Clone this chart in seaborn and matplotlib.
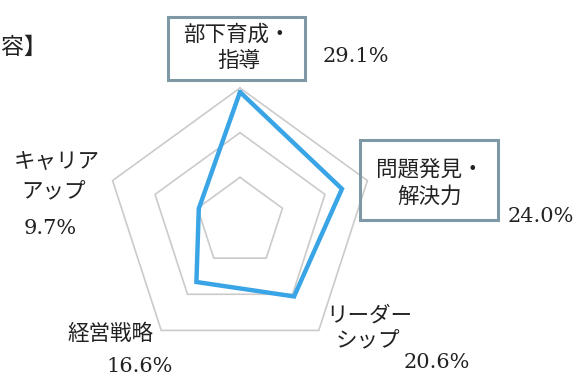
import numpy as np
import pandas as pd
import matplotlib
matplotlib.use("Agg")
import matplotlib.pyplot as plt
from matplotlib.patches import Rectangle
import seaborn as sns

# Training content survey: share of responses per category (%)
categories = ["部下育成・指導", "問題発見・解決力", "リーダーシップ", "経営戦略", "キャリアアップ"]
values = [29.1, 24.0, 20.6, 16.6, 9.7]
grid_levels = [10, 20, 30]
value_labels = ["29.1%", "24.0%", "20.6%", "16.6%", "9.7%"]

sns.set_theme(style="white")
plt.rcParams["font.family"] = ["Noto Sans CJK JP", "DejaVu Sans"]

W, H = 578, 379
fig = plt.figure(figsize=(W / 100, H / 100), dpi=100)
fig.patch.set_facecolor("white")

# chart centre and outer radius in pixels
cx, cy, R = 240, 222, 134
vmax = grid_levels[-1]
scale = R / vmax
ax = fig.add_axes([0, 0, 1, 1])
ax.set_xlim(-cx / scale, (W - cx) / scale)
ax.set_ylim(-(H - cy) / scale, cy / scale)
ax.set_axis_off()

n = len(categories)
angles = np.deg2rad(90 - 72 * np.arange(n))

# pentagon grid
for lv in grid_levels:
    gx = np.append(lv * np.cos(angles), lv * np.cos(angles[0]))
    gy = np.append(lv * np.sin(angles), lv * np.sin(angles[0]))
    ax.plot(gx, gy, color="#cbcbcb", lw=1.2, solid_joinstyle="miter", zorder=1)

# data polygon
vals = np.array(values)
df = pd.DataFrame({
    "x": np.append(vals * np.cos(angles), vals[0] * np.cos(angles[0])),
    "y": np.append(vals * np.sin(angles), vals[0] * np.sin(angles[0])),
})
sns.lineplot(data=df, x="x", y="y", sort=False, estimator=None, ax=ax,
             color="#3aa5e6", lw=3.2, zorder=3)
ax.lines[-1].set_solid_joinstyle("miter")
ax.set_xlabel("")
ax.set_ylabel("")


def px(x, y):
    return x / W, 1 - y / H


def txt(x, y, s, serif=False, size=15.5, **kw):
    fam = ["DejaVu Serif"] if serif else ["Noto Sans CJK JP", "DejaVu Sans"]
    fig.text(*px(x, y), s, ha=kw.pop("ha", "center"), va="center",
             family=fam, fontsize=size, color="#222222", **kw)


def box(x0, y0, x1, y1):
    fig.patches.append(Rectangle(px(x0, y1), (x1 - x0) / W, (y1 - y0) / H,
                                 transform=fig.transFigure, fill=False,
                                 edgecolor="#7f98a6", lw=2.2, zorder=5))


# heading fragment
txt(1, 47, "容】", size=16.5, ha="left")

# category labels
box(168, 17, 305, 80)
txt(237, 35, "部下育成・")
txt(239, 61, "指導")
txt(356, 57, value_labels[0], serif=True, size=15)

box(360, 140, 498, 220)
txt(430, 169, "問題発見・")
txt(430, 197, "解決力")
txt(541, 217, value_labels[1], serif=True, size=15)

txt(369, 316, "リーダー")
txt(368, 341, "シップ")
txt(437, 362, value_labels[2], serif=True, size=15)

txt(110, 334, "経営戦略")
txt(140, 367, value_labels[3], serif=True, size=15)

txt(57, 161, "キャリア")
txt(54, 192, "アップ")
txt(50, 229, value_labels[4], serif=True, size=15)

fig.savefig("out.png", dpi=100, facecolor="white")
